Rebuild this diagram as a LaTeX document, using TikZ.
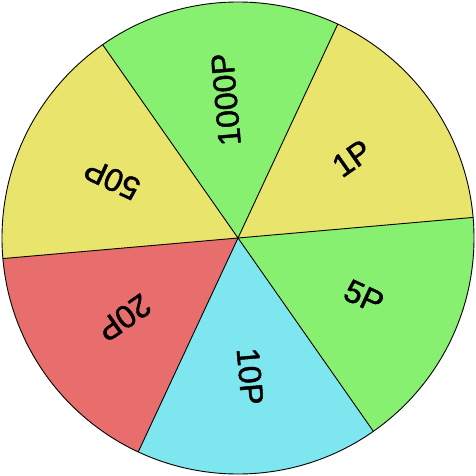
\documentclass[tikz,border=0pt]{standalone}
\usepackage{fontspec}
\setmainfont{Liberation Sans}
\newfontfamily\prizefont{Liberation Sans}[FakeBold=1.4]
\usepackage{xcolor}
\definecolor{wgreen}{HTML}{88F070}
\definecolor{wyellow}{HTML}{E8E46C}
\definecolor{wred}{HTML}{E86E6E}
\definecolor{wcyan}{HTML}{7EE6EE}

\begin{document}
\begin{tikzpicture}[x=1pt, y=1pt,
  spoke/.style={line width=0.9pt, black},
  prize/.style={font=\prizefont\fontsize{32}{32}\selectfont, inner sep=0pt}]
\useasboundingbox (-238,-238) rectangle (238,238);
% ---- sectors and prize labels -------------------------------------
\foreach \a/\col/\txt/\nm in {5/wyellow/1P/pone, 65/wgreen/1000P/pthousand,
    125/wyellow/50P/pfifty, 185/wred/20P/ptwenty, 245/wcyan/10P/pten,
    305/wgreen/5P/pfive} {
  \pgfmathsetmacro\mid{\a+30}
  \pgfmathsetmacro\stop{\a+60}
  \fill[\col] (0,0) -- (\a:236) arc[start angle=\a, end angle=\stop, radius=236] -- cycle;
  \node[prize, rotate=\mid] (\nm) at (\mid:139) {\txt};
}
% ---- spokes and rim -----------------------------------------------
\coordinate (hub) at (0,0);
\foreach \a in {5,65,...,305}
  \draw[spoke] (hub) -- (\a:236);
\draw[spoke] (hub) circle (236);
\end{tikzpicture}
\end{document}
